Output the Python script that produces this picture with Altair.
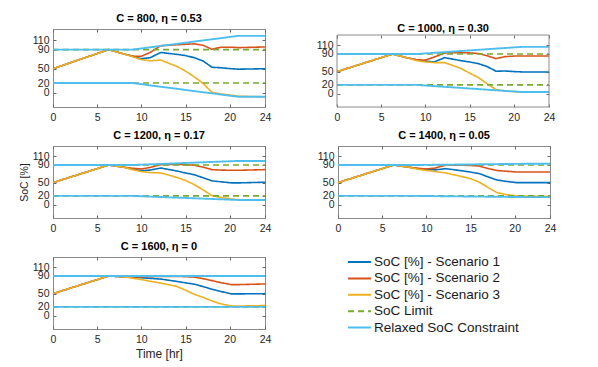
import altair as alt
import pandas as pd

FONT = "Liberation Sans"

SERIES = ["SoC [%] - Scenario 1", "SoC [%] - Scenario 2", "SoC [%] - Scenario 3",
          "SoC Limit", "Relaxed SoC Constraint"]
COLORS = ["#0072BD", "#D95319", "#EDB120", "#77AC30", "#4DBEEE"]
DASHES = [[1, 0], [1, 0], [1, 0], [6, 4], [1, 0]]
WIDTHS = [1.6, 1.6, 1.6, 1.6, 1.9]

TITLES = ["C = 800, η = 0.53", "C = 1000, η = 0.30", "C = 1200, η = 0.17",
          "C = 1400, η = 0.05", "C = 1600, η = 0"]

X_TICKS = [0, 5, 10, 15, 20, 24]
Y_TICKS = [0, 20, 50, 90, 110]

TIME = [0, 6.3, 8, 9, 10, 11, 12.2, 14, 15, 16, 17, 18, 19, 20.2, 21, 24]
RELAX_T = [0, 9, 21, 24]
LIMIT_T = [0, 24]
LIMIT_UP = [90, 90]
LIMIT_LO = [20, 20]

P1_S1 = [50, 90, 81, 76, 71, 73, 84, 80, 77.5, 73, 66, 53, 52, 50, 49, 50]
P1_S2 = [50, 90, 81, 76, 76, 84, 98, 100, 101, 102, 99, 90.5, 95, 95, 94, 95.5]
P1_S3 = [50, 90, 81, 75, 69, 66.5, 68, 55, 45, 33, 19, 0.5, -2.5, -5.5, -7.5, -8.7]
P1_UP = [90, 90, 118.7, 118.7]
P1_LO = [20, 20, -8.7, -8.7]

P2_S1 = [50, 90, 81, 77, 74, 72, 81.7, 75, 72, 68.2, 61.5, 51, 51.5, 50, 49.4, 49.4]
P2_S2 = [50, 90, 81, 77, 76, 83, 92.3, 93, 92.5, 91, 86, 79.5, 84, 85.5, 85.5, 85.5]
P2_S3 = [50, 90, 81, 75, 72, 70.5, 70.4, 57.5, 47, 36.6, 22.5, 9.5, 6.5, 4.9, 3.8, 3.8]
P2_UP = [90, 90, 106.2, 106.2]
P2_LO = [20, 20, 3.8, 3.8]

P3_S1 = [50, 90, 85, 81, 77.2, 78.5, 83.2, 76.5, 72, 68, 61, 54, 52, 49.5, 49.5, 51]
P3_S2 = [50, 90, 85, 82.5, 81, 84.5, 90.5, 91.5, 90.5, 89.5, 85, 79.5, 78.5, 78, 78, 79.5]
P3_S3 = [50, 90, 85, 79.5, 75, 73, 72, 62, 55, 45.5, 33.5, 20.5, 16.5, 13, 11.5, 11]
P3_UP = [90, 90, 99.2, 99.2]
P3_LO = [20, 20, 10.8, 10.8]

P4_S1 = [50, 90, 85, 82, 80, 79, 81.7, 77, 74, 70.5, 63, 56, 53, 50, 50, 50]
P4_S2 = [50, 90, 85, 82.5, 81, 83, 90, 89.5, 89, 87.5, 82, 77.5, 76, 74.2, 74.2, 74.2]
P4_S3 = [50, 90, 85, 80.5, 77.5, 75, 72, 64, 59, 51, 39, 27.5, 23, 20, 19.5, 19.3]
P4_UP = [90, 90, 92.7, 92.7]
P4_LO = [20, 20, 17.3, 17.3]

P5_S1 = [50, 90, 88, 87, 86, 84.7, 83, 77.8, 74.5, 71.5, 66, 60, 55, 49.5, 49.5, 50]
P5_S2 = [50, 90, 88, 88, 88, 88.5, 89, 89, 88.5, 87.5, 84, 79.5, 75, 70.5, 70.5, 72]
P5_S3 = [50, 90, 88, 85, 82, 78, 74, 66.5, 58, 48.5, 41.5, 33.5, 27, 22, 22, 23]
P5_UP = [90, 90, 90, 90]
P5_LO = [20, 20, 20, 20]

PANELS = [
    (P1_S1, P1_S2, P1_S3, P1_UP, P1_LO),
    (P2_S1, P2_S2, P2_S3, P2_UP, P2_LO),
    (P3_S1, P3_S2, P3_S3, P3_UP, P3_LO),
    (P4_S1, P4_S2, P4_S3, P4_UP, P4_LO),
    (P5_S1, P5_S2, P5_S3, P5_UP, P5_LO),
]

Y_DOMAIN = [-30, 133]
W = 212


def make_df(k):
    s1, s2, s3, up, lo = PANELS[k]
    rows = []
    for name, vals in zip(SERIES[:3], (s1, s2, s3)):
        for t, v in zip(TIME, vals):
            rows.append({"t": t, "v": v, "series": name, "line": name})
    for t, v in zip(LIMIT_T, LIMIT_UP):
        rows.append({"t": t, "v": v, "series": SERIES[3], "line": "lim_up"})
    for t, v in zip(LIMIT_T, LIMIT_LO):
        rows.append({"t": t, "v": v, "series": SERIES[3], "line": "lim_lo"})
    for t, v in zip(RELAX_T, up):
        rows.append({"t": t, "v": v, "series": SERIES[4], "line": "rel_up"})
    for t, v in zip(RELAX_T, lo):
        rows.append({"t": t, "v": v, "series": SERIES[4], "line": "rel_lo"})
    return pd.DataFrame(rows)


LEGEND = dict(orient="none", legendX=297, legendY=223.5, title=None,
              labelFont=FONT, labelFontSize=13.5, labelColor="#1a1a1a",
              symbolType="M-1.35,0H1.35", symbolSize=289, symbolStrokeWidth=2,
              rowPadding=0.4, labelOffset=5, labelLimit=400)


def panel(k, height, yrange=None, title_offset=5, y_title=None, x_title=None, frame=False):
    df = make_df(k)
    xscale = alt.Scale(domain=[0, 24], nice=False, zero=False)
    yscale = alt.Scale(domain=Y_DOMAIN, nice=False, zero=False)
    if yrange is not None:
        yscale = alt.Scale(domain=Y_DOMAIN, nice=False, zero=False, range=yrange)
    base = alt.Chart(df).encode(
        x=alt.X("t:Q", scale=xscale,
                axis=alt.Axis(values=X_TICKS, title=x_title, offset=-3,
                              labelPadding=5, titlePadding=4, labelFlush=False)),
        y=alt.Y("v:Q", scale=yscale,
                axis=alt.Axis(values=Y_TICKS, title=y_title, offset=-3,
                              labelPadding=4, titlePadding=3, labelFlush=False)),
        color=alt.Color("series:N", scale=alt.Scale(domain=SERIES, range=COLORS),
                        legend=alt.Legend(**LEGEND)),
        strokeDash=alt.StrokeDash("series:N", scale=alt.Scale(domain=SERIES, range=DASHES),
                                  legend=alt.Legend(**LEGEND)),
        detail="line:N",
    )
    layers = [base.transform_filter(alt.datum.series == s).mark_line(strokeWidth=w)
              for s, w in zip(SERIES, WIDTHS)]
    if frame:
        box = alt.Chart(alt.Data(values=[{"a": 1}])).mark_rect(
            fillOpacity=0, stroke="#8a8a8a", strokeWidth=1
        ).encode(x=alt.value(0), x2=alt.value(W), y=alt.value(yrange[1]), y2=alt.value(yrange[0]))
        layers.append(box)
    inner = alt.layer(*layers)
    top_off = -3 - (yrange[1] if yrange is not None else 0)
    mirror = alt.Chart(df).mark_line(opacity=0).encode(
        x=alt.X("t:Q", scale=xscale,
                axis=alt.Axis(orient="top", values=X_TICKS, labels=False, title=None,
                              offset=top_off)),
        y=alt.Y("v:Q", scale=yscale,
                axis=alt.Axis(orient="right", values=Y_TICKS, labels=False, title=None,
                              offset=-3)),
        detail="line:N",
    )
    ch = alt.layer(inner, mirror).resolve_axis(x="independent", y="independent").properties(
        width=W, height=height,
        title=alt.TitleParams(TITLES[k], font=FONT, fontSize=11, fontWeight="bold",
                              color="#000000", anchor="middle", offset=title_offset),
    )
    if frame:
        ch = ch.properties(view=alt.ViewBackground(strokeOpacity=0))
    return ch


p1 = panel(0, 78)
p2 = panel(1, 78, yrange=[78, 6], title_offset=-5, frame=True)
p3 = panel(2, 72, y_title="SoC [%]")
p4 = panel(3, 72)
p5 = panel(4, 72, x_title="Time [hr]")

row1 = alt.hconcat(p1, p2, spacing=44)
row2 = alt.hconcat(p3, p4, spacing=44)

chart = alt.vconcat(row1, row2, p5, spacing=6).properties(
    padding={"left": 10, "top": 4, "right": 5, "bottom": 5}
).configure_view(stroke="#8a8a8a", strokeWidth=1).configure_axis(
    labelFont=FONT, labelFontSize=10.5, labelColor="#262626", ticks=True, tickSize=3,
    tickColor="#666666", tickWidth=1, domain=False,
    grid=False, labelOverlap=False, titleFont=FONT, titleFontSize=12,
    titleFontWeight="normal", titleColor="#262626"
).configure_axisY(titleFontSize=10.5)

chart.save("out.html", embed_options={"renderer": "svg", "actions": False})
